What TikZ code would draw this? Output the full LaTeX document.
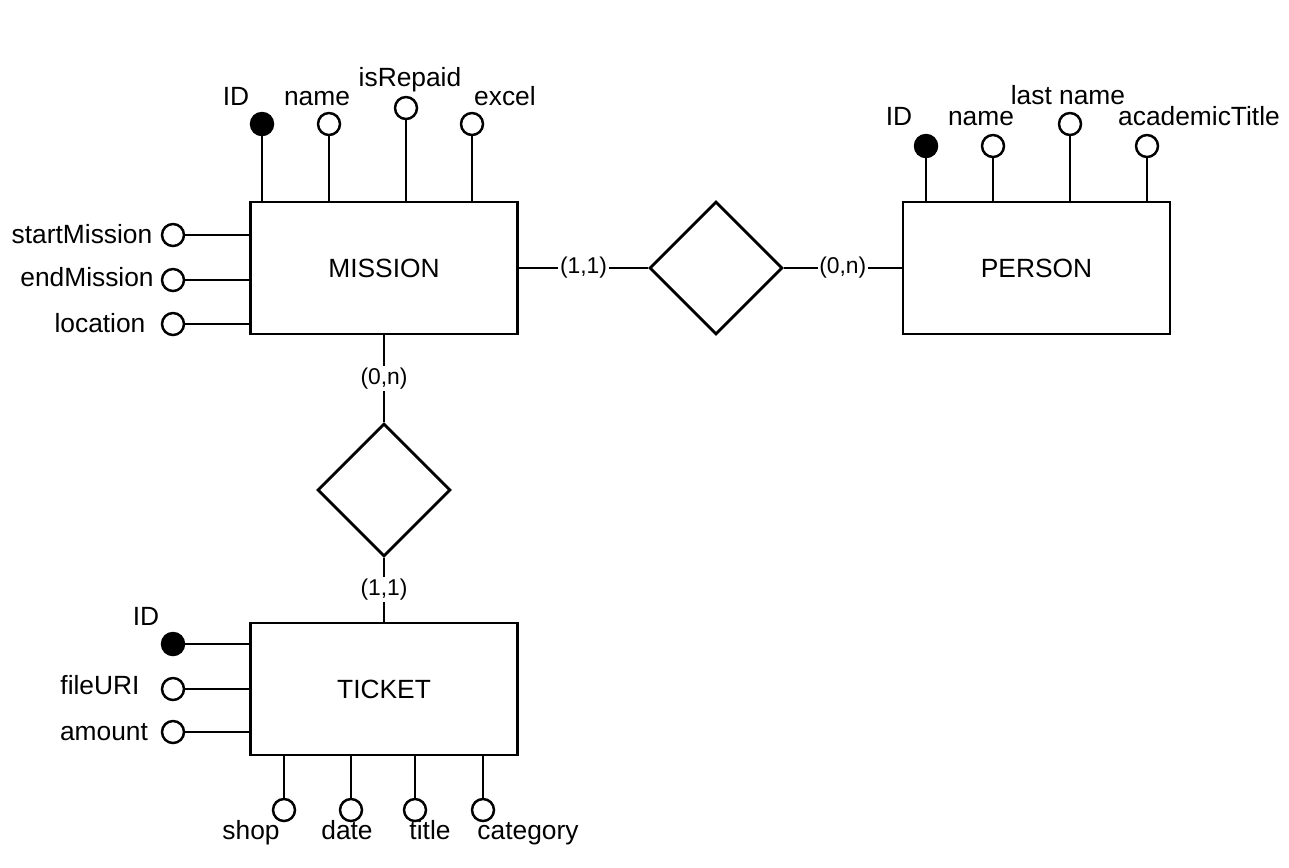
\documentclass[tikz,border=0pt]{standalone}
\usepackage{fontspec}
\setmainfont{Liberation Sans}
\usepackage{tikz}
\usetikzlibrary{shapes,positioning,calc}

\begin{document}
\begin{tikzpicture}[x=0.02cm, y=-0.02cm, line width=1.6pt,
	entity/.style={draw, rectangle, minimum width=5.34cm, minimum height=2.64cm, inner sep=0pt, font=\fontsize{15}{18}\selectfont},
	rel/.style={draw, diamond, minimum width=2.66cm, minimum height=2.66cm, inner sep=0pt},
	attr/.style={draw, circle, minimum size=0.44cm, inner sep=0pt, line width=1.4pt, fill=white},
	key/.style={attr, fill=black},
	lbl/.style={anchor=base, inner sep=0pt, font=\fontsize{15}{18}\selectfont},
	card/.style={fill=white, inner sep=1pt, font=\fontsize{13}{15}\selectfont}]
	\useasboundingbox (0,0) rectangle (1289,867);

	\node[entity] (mission) at (384,268) {MISSION};
	\node[entity] (person) at (1036.5,268) {PERSON};
	\node[entity] (ticket) at (384,689) {TICKET};
	\node[rel] (owns) at (716,268) {};
	\node[rel] (holds) at (384,490) {};

	\node[key] (mid) at (262,124) {};
	\node[attr] (mname) at (329,124) {};
	\node[attr] (mrepaid) at (406,108) {};
	\node[attr] (mexcel) at (472,124) {};
	\node[attr] (mstart) at (173,235) {};
	\node[attr] (mend) at (173,280) {};
	\node[attr] (mloc) at (173,324) {};
	\node[lbl] (lmid) at (236,105) {ID};
	\node[lbl] (lmname) at (317,105) {name};
	\node[lbl] (lmrepaid) at (410,86) {isRepaid};
	\node[lbl] (lmexcel) at (505,105) {excel};
	\node[lbl] (lmstart) at (82,243) {startMission};
	\node[lbl] (lmend) at (87,286) {endMission};
	\node[lbl] (lmloc) at (100,332) {location};

	\node[key] (pid) at (926,146) {};
	\node[attr] (pname) at (993,146) {};
	\node[attr] (plast) at (1070,124) {};
	\node[attr] (ptitle) at (1147,146) {};
	\node[lbl] (lpid) at (899,125) {ID};
	\node[lbl] (lpname) at (981,125) {name};
	\node[lbl] (lplast) at (1068,104) {last name};
	\node[lbl] (lptitle) at (1199,125) {academicTitle};

	\node[key] (tid) at (173,644) {};
	\node[attr] (tfile) at (173,689) {};
	\node[attr] (tamount) at (173,732) {};
	\node[attr] (tshop) at (284,810) {};
	\node[attr] (tdate) at (351,810) {};
	\node[attr] (ttitle) at (415,810) {};
	\node[attr] (tcat) at (483,810) {};
	\node[lbl] (ltid) at (146,625) {ID};
	\node[lbl] (ltfile) at (100,694) {fileURI};
	\node[lbl] (ltamount) at (104,740) {amount};
	\node[lbl] (ltshop) at (251,839) {shop};
	\node[lbl] (ltdate) at (347,839) {date};
	\node[lbl] (lttitle) at (430,839) {title};
	\node[lbl] (ltcat) at (528,839) {category};

	\draw (mission) -- node[card] {(1,1)} (owns);
	\draw (owns) -- node[card] {(0,n)} (person);
	\draw (mission) -- node[card] {(0,n)} (holds);
	\draw (holds) -- node[card] {(1,1)} (ticket);

	\draw (mid) -- (mid |- mission.north);
	\draw (mname) -- (mname |- mission.north);
	\draw (mrepaid) -- (mrepaid |- mission.north);
	\draw (mexcel) -- (mexcel |- mission.north);
	\draw (mstart) -- (mstart -| mission.west);
	\draw (mend) -- (mend -| mission.west);
	\draw (mloc) -- (mloc -| mission.west);

	\draw (pid) -- (pid |- person.north);
	\draw (pname) -- (pname |- person.north);
	\draw (plast) -- (plast |- person.north);
	\draw (ptitle) -- (ptitle |- person.north);

	\draw (tid) -- (tid -| ticket.west);
	\draw (tfile) -- (tfile -| ticket.west);
	\draw (tamount) -- (tamount -| ticket.west);
	\draw (tshop) -- (tshop |- ticket.south);
	\draw (tdate) -- (tdate |- ticket.south);
	\draw (ttitle) -- (ttitle |- ticket.south);
	\draw (tcat) -- (tcat |- ticket.south);
\end{tikzpicture}
\end{document}
